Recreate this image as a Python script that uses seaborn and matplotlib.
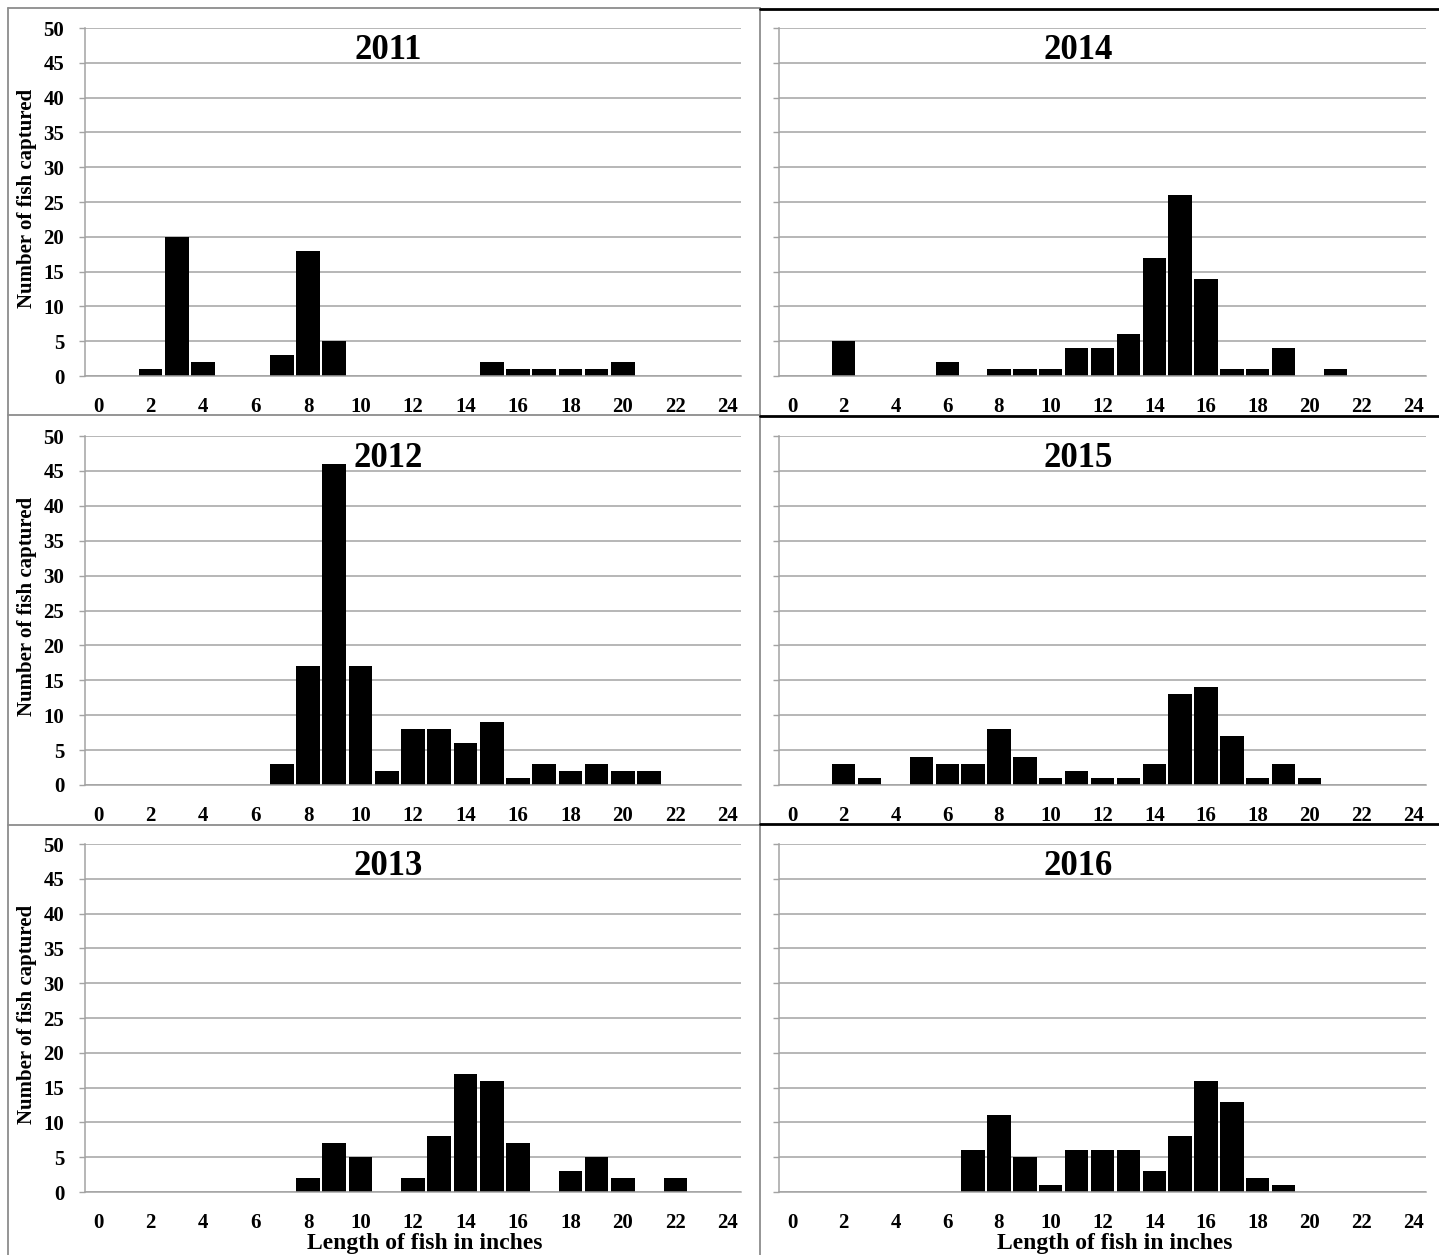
import numpy as np
import pandas as pd
import matplotlib
matplotlib.use("Agg")
import matplotlib.pyplot as plt
from matplotlib.lines import Line2D
import seaborn as sns

# ---------------- data ----------------
lengths = list(range(0, 25))
counts_2011 = [0, 0, 1, 20, 2, 0, 0, 3, 18, 5, 0, 0, 0, 0, 0, 2, 1, 1, 1, 1, 2, 0, 0, 0, 0]
counts_2012 = [0, 0, 0, 0, 0, 0, 0, 3, 17, 46, 17, 2, 8, 8, 6, 9, 1, 3, 2, 3, 2, 2, 0, 0, 0]
counts_2013 = [0, 0, 0, 0, 0, 0, 0, 0, 2, 7, 5, 0, 2, 8, 17, 16, 7, 0, 3, 5, 2, 0, 2, 0, 0]
counts_2014 = [0, 0, 5, 0, 0, 0, 2, 0, 1, 1, 1, 4, 4, 6, 17, 26, 14, 1, 1, 4, 0, 1, 0, 0, 0]
counts_2015 = [0, 0, 3, 1, 0, 4, 3, 3, 8, 4, 1, 2, 1, 1, 3, 13, 14, 7, 1, 3, 1, 0, 0, 0, 0]
counts_2016 = [0, 0, 0, 0, 0, 0, 0, 6, 11, 5, 1, 6, 6, 6, 3, 8, 16, 13, 2, 1, 0, 0, 0, 0, 0]
years = ["2011", "2012", "2013", "2014", "2015", "2016"]
x_tick_labels = [str(v) for v in range(0, 25, 2)]
y_ticks = list(range(0, 51, 5))
y_label = "Number of fish captured"
x_label = "Length of fish in inches"

# ---------------- style ----------------
sns.set_theme(style="white")
plt.rcParams["font.family"] = ["Liberation Serif", "DejaVu Serif"]
plt.rcParams["font.weight"] = "bold"
plt.rcParams["text.color"] = "black"

W, H = 1439, 1255
fig = plt.figure(figsize=(W / 100, H / 100), dpi=100)
fig.patch.set_facecolor("white")

rows = [(28, 376), (436, 785), (844, 1192)]
cols = [(85, 741), (779, 1426)]
panels = [
    (0, 0, "2011", counts_2011),
    (1, 0, "2012", counts_2012),
    (2, 0, "2013", counts_2013),
    (0, 1, "2014", counts_2014),
    (1, 1, "2015", counts_2015),
    (2, 1, "2016", counts_2016),
]

grid_c = "#a3a3a3"

for r, c, year, vals in panels:
    y0, y1 = rows[r]
    x0, x1 = cols[c]
    ax = fig.add_axes([x0 / W, 1 - y1 / H, (x1 - x0) / W, (y1 - y0) / H])
    df = pd.DataFrame({"length": lengths, "count": vals})
    sns.barplot(data=df, x="length", y="count", order=lengths, color="black",
                saturation=1, width=0.9, edgecolor="none", ax=ax)
    ax.set_xlim(-0.5, 24.5)
    ax.set_ylim(0, 50)
    ax.set_yticks(y_ticks)
    ax.grid(axis="y", color=grid_c, lw=1.1)
    ax.grid(axis="x", visible=False)
    ax.set_axisbelow(True)
    for s in ["top", "right"]:
        ax.spines[s].set_visible(False)
    for s in ["left", "bottom"]:
        ax.spines[s].set_color(grid_c)
        ax.spines[s].set_linewidth(1.1)
    ax.set_xticks(range(0, 25, 2))
    ax.set_xticklabels(x_tick_labels)
    ax.set_xticks(np.arange(-0.5, 25, 1), minor=True)
    ax.tick_params(axis="x", which="major", length=0, pad=15, labelsize=15,
                   labelcolor="black")
    ax.tick_params(axis="x", which="minor", length=5, width=1, color=grid_c, direction="out")
    ax.tick_params(axis="y", which="major", length=4, width=1, color=grid_c,
                   direction="out", pad=11, labelsize=15, left=True, labelcolor="black")
    for lab in ax.get_xticklabels() + ax.get_yticklabels():
        lab.set_fontweight("bold")
    if c == 1:
        ax.set_yticklabels([])
    ax.set_xlabel("")
    ax.set_ylabel("")
    ax.text(0.462, 0.935, year, transform=ax.transAxes, ha="center", va="center",
            fontsize=25, fontweight="bold", color="black")
    if c == 0:
        fig.text(27 / W, 1 - ((y0 + y1) / 2 - 4) / H, y_label, rotation=90,
                 ha="center", va="center", fontsize=15, fontweight="bold", color="black")
    if r == 2:
        xc = (x0 + x1) / 2 + 12
        fig.text(xc / W, 1 - 1243 / H, x_label, ha="center", va="center",
                 fontsize=17, fontweight="bold", color="black")

# ---------------- panel frames ----------------
def fline(xa, ya, xb, yb, color, lw):
    fig.add_artist(Line2D([xa / W, xb / W], [1 - ya / H, 1 - yb / H],
                          transform=fig.transFigure, color=color, lw=lw))

gray = "#8c8c8c"
fline(8, 8, 8, H, gray, 1.3)
fline(760, 8, 760, H, gray, 1.3)
for yy in (8, 415, 825):
    fline(8, yy, 760, yy, gray, 1.3)
for yy in (9, 416, 824):
    fline(760, yy, W, yy, "black", 2)

fig.savefig("out.png", dpi=100, facecolor="white")
